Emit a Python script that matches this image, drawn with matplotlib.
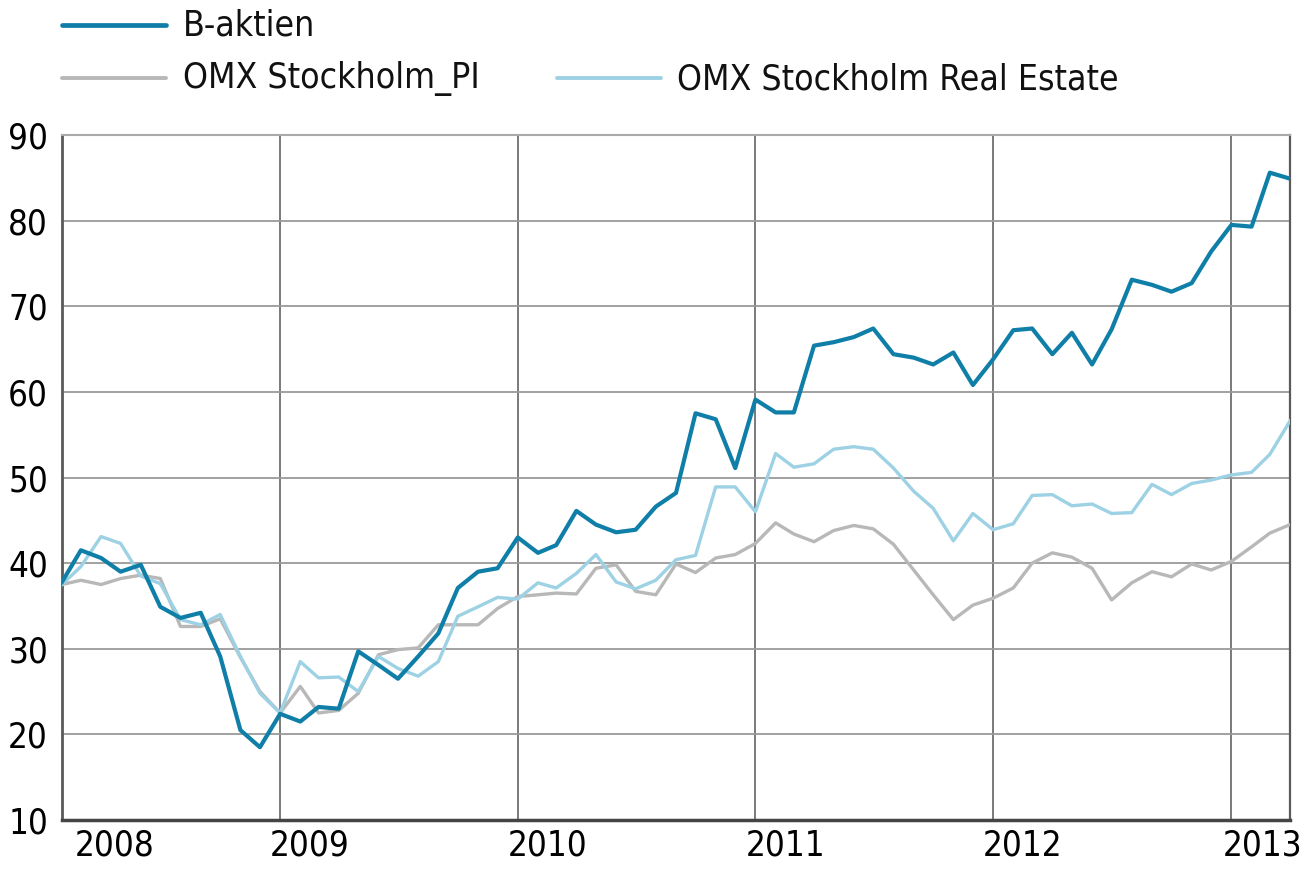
import matplotlib
matplotlib.use("Agg")
import matplotlib.pyplot as plt
import matplotlib.dates as mdates
from matplotlib.lines import Line2D
from matplotlib import font_manager
import pandas as pd

# Prefer an installed condensed face (the reference uses a narrow font)
narrow = None
for f in font_manager.fontManager.ttflist:
    nm = f.name.lower()
    if 'narrow' in nm or 'condensed' in nm or str(f.stretch) in ('condensed', 'semi-condensed', 'extra-condensed'):
        narrow = f
        break

if narrow is not None:
    plt.rcParams['font.family'] = [narrow.name, 'DejaVu Sans']
    plt.rcParams['font.stretch'] = narrow.stretch
    tick_fs, leg_fs = 25, 25.5
else:
    plt.rcParams['font.family'] = ['DejaVu Sans']
    tick_fs, leg_fs = 21, 22

# Monthly values, Feb 2008 - Apr 2013
start_month = "2008-02-01"

b_aktien = [37.8, 41.5, 40.6, 39.0, 39.8, 34.9, 33.6, 34.2, 29.1, 20.5, 18.5,
            22.4, 21.5, 23.2, 23.0, 29.7, 28.1, 26.5, 29.1, 31.8, 37.1, 39.0, 39.4,
            43.0, 41.2, 42.1, 46.1, 44.5, 43.6, 43.9, 46.6, 48.2, 57.5, 56.8, 51.1,
            59.1, 57.6, 57.6, 65.4, 65.8, 66.4, 67.4, 64.4, 64.0, 63.2, 64.6, 60.8,
            63.8, 67.2, 67.4, 64.4, 66.9, 63.2, 67.3, 73.1, 72.5, 71.7, 72.7, 76.4,
            79.5, 79.3, 85.6, 84.9]

omx_pi = [37.5, 38.0, 37.5, 38.2, 38.6, 38.2, 32.6, 32.6, 33.5, 29.0, 25.0,
          22.5, 25.6, 22.5, 22.8, 24.8, 29.3, 29.9, 30.1, 32.8, 32.8, 32.8, 34.7,
          36.1, 36.3, 36.5, 36.4, 39.4, 39.8, 36.7, 36.3, 39.9, 38.9, 40.6, 41.0,
          42.3, 44.7, 43.4, 42.5, 43.8, 44.4, 44.0, 42.2, 39.2, 36.3, 33.4, 35.1,
          35.9, 37.1, 40.0, 41.2, 40.7, 39.4, 35.7, 37.7, 39.0, 38.4, 39.9, 39.2,
          40.2, 41.9, 43.5, 44.5]

omx_re = [37.5, 39.6, 43.1, 42.3, 38.5, 37.6, 33.4, 32.8, 34.0, 29.1, 24.8,
          22.5, 28.5, 26.6, 26.7, 25.0, 29.1, 27.7, 26.8, 28.5, 33.8, 34.9, 36.0,
          35.8, 37.7, 37.1, 38.8, 41.0, 37.8, 37.0, 38.0, 40.4, 40.9, 48.9, 48.9,
          46.0, 52.8, 51.2, 51.6, 53.3, 53.6, 53.3, 51.1, 48.4, 46.4, 42.6, 45.8,
          43.9, 44.6, 47.9, 48.0, 46.7, 46.9, 45.8, 45.9, 49.2, 48.0, 49.3, 49.7,
          50.3, 50.6, 52.7, 56.6]

series_names = ["B-aktien", "OMX Stockholm_PI", "OMX Stockholm Real Estate"]
year_labels = ["2008", "2009", "2010", "2011", "2012", "2013"]
year_label_dates = ["2008-04-22", "2009-02-16", "2010-02-16", "2011-02-16",
                    "2012-02-16", "2013-02-18"]
y_ticks = [10, 20, 30, 40, 50, 60, 70, 80, 90]

c_dark = "#0f7fa8"
c_gray = "#b8b8b8"
c_light = "#9dd1e4"

dates = pd.date_range(start_month, periods=len(b_aktien), freq="MS")

fig = plt.figure(figsize=(13.03, 8.69), dpi=100)
ax = fig.add_axes([62/1303, 1-820/869, (1290-62)/1303, (820-135)/869])

l_gray, = ax.plot(dates, omx_pi, color=c_gray, lw=2.4, zorder=3)
l_light, = ax.plot(dates, omx_re, color=c_light, lw=2.4, zorder=4)
l_dark, = ax.plot(dates, b_aktien, color=c_dark, lw=3.0, zorder=5)

ax.set_xlim(dates[0], dates[-1])
ax.set_ylim(10, 90)
ax.set_yticks(y_ticks)
ax.set_yticklabels([str(v) for v in y_ticks])

ax.xaxis.set_major_locator(mdates.YearLocator())
ax.xaxis.set_major_formatter(plt.NullFormatter())
ax.set_xticks(pd.to_datetime(year_label_dates), minor=True)
ax.set_xticklabels(year_labels, minor=True)

ax.tick_params(axis='x', which='both', length=0)
ax.tick_params(axis='x', which='minor', labelsize=tick_fs, pad=6)
ax.tick_params(axis='y', length=0, labelsize=tick_fs, pad=10)

ax.grid(axis='y', color="#9a9a9a", lw=1.3, zorder=1)
ax.grid(axis='x', which='major', color="#707070", lw=1.3, zorder=1)

for side, col, w in [("left", "#5a5a5a", 2.0), ("bottom", "#444444", 2.5),
                     ("right", "#5a5a5a", 1.6), ("top", "#aaaaaa", 1.5)]:
    ax.spines[side].set_color(col)
    ax.spines[side].set_linewidth(w)

def fx(px):
    return px / 1303

def fy(py):
    return 1 - py / 869

legend_items = [
    (l_dark, 62, 166, 25, 183),
    (l_gray, 62, 166, 78, 183),
    (l_light, 557, 661, 78, 677),
]
for (line, x0, x1, yy, tx), name in zip(legend_items, series_names):
    fig.add_artist(Line2D([fx(x0), fx(x1)], [fy(yy), fy(yy)], color=line.get_color(),
                          lw=line.get_linewidth() + 0.4, solid_capstyle='round'))
    fig.text(fx(tx), fy(yy + 1), name, fontsize=leg_fs, va='center', ha='left', color="#111111")

fig.savefig("out.png", dpi=100)
